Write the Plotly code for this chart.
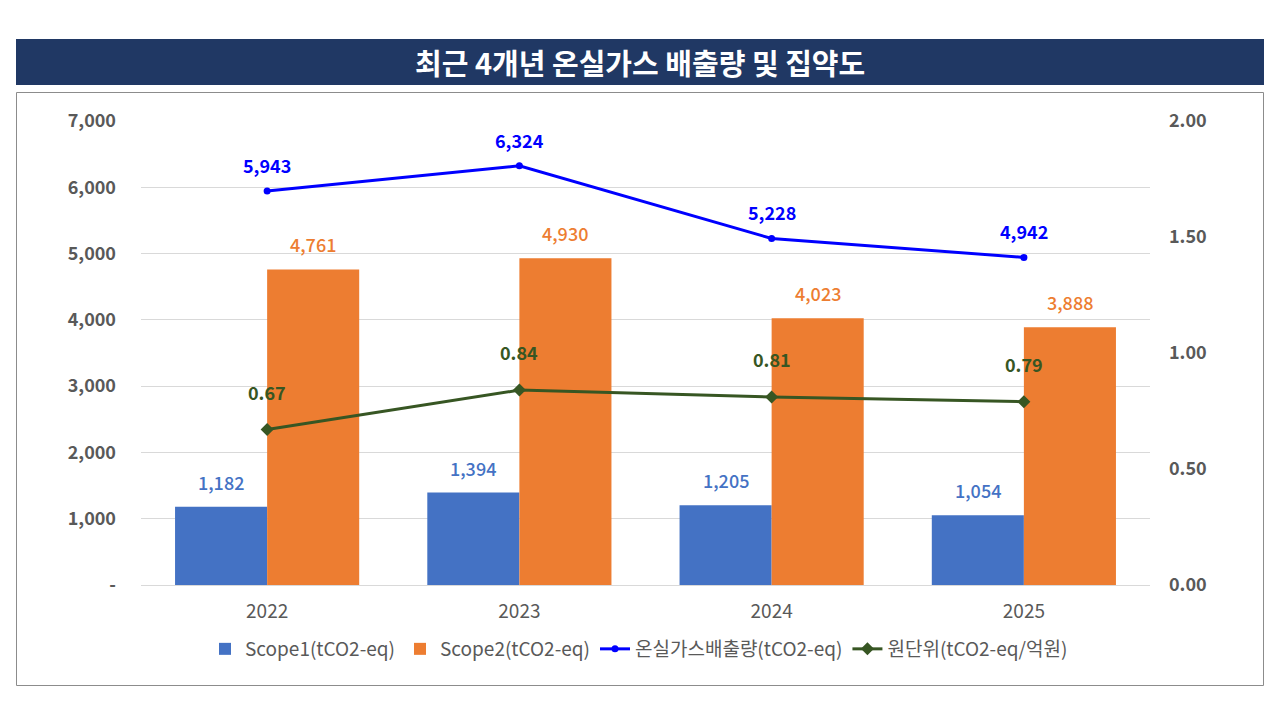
import plotly.graph_objects as go

years = ["2022", "2023", "2024", "2025"]
scope1 = [1182, 1394, 1205, 1054]
scope2 = [4761, 4930, 4023, 3888]
total = [5943, 6324, 5228, 4942]
intensity = [0.67, 0.84, 0.81, 0.79]
left_ticks = [0, 1000, 2000, 3000, 4000, 5000, 6000, 7000]
left_ticktext = ["-", "1,000", "2,000", "3,000", "4,000", "5,000", "6,000", "7,000"]
right_ticks = [0, 0.5, 1.0, 1.5, 2.0]

title = "최근 4개년 온실가스 배출량 및 집약도"
names = ["Scope1(tCO2-eq)", "Scope2(tCO2-eq)", "온실가스배출량(tCO2-eq)", "원단위(tCO2-eq/억원)"]

font_family = "Noto Sans CJK KR"
gray = "#595959"
c_s1 = "#4472C4"
c_s2 = "#ED7D31"
c_tot = "#0000FF"
c_int = "#375623"

# page has an 8px body margin; work in screen pixels and shift
OFF = 8
W, H = 1280 - 2 * OFF, 720 - 2 * OFF
L, R, T, B = 141 - OFF, 1150 - OFF, 121 - OFF, 585 - OFF


def px(x):
    return (x - OFF - L) / (R - L)


def py(y):
    return (B - (y - OFF)) / (B - T)


fig = go.Figure()
fig.add_trace(go.Bar(x=years, y=scope1, name=names[0], marker=dict(color=c_s1, line=dict(width=0))))
fig.add_trace(go.Bar(x=years, y=scope2, name=names[1], marker=dict(color=c_s2, line=dict(width=0))))
fig.add_trace(go.Scatter(x=years, y=total, name=names[2], mode="lines+markers",
                         line=dict(color=c_tot, width=3),
                         marker=dict(symbol="circle", size=7, color=c_tot)))
fig.add_trace(go.Scatter(x=years, y=intensity, name=names[3], mode="lines+markers",
                         yaxis="y2", line=dict(color=c_int, width=3),
                         marker=dict(symbol="diamond", size=10, color=c_int)))

# data labels (x given as category index so the year strings are not read as numbers)
annotations = []
for i in range(len(years)):
    annotations.append(dict(x=i, y=scope1[i], xref="x", yref="y", text=f"{scope1[i]:,}",
                            showarrow=False, xshift=-46, yshift=10, yanchor="bottom",
                            font=dict(color=c_s1, size=18, weight=500)))
    annotations.append(dict(x=i, y=scope2[i], xref="x", yref="y", text=f"{scope2[i]:,}",
                            showarrow=False, xshift=46, yshift=10, yanchor="bottom",
                            font=dict(color=c_s2, size=18, weight=500)))
    annotations.append(dict(x=i, y=total[i], xref="x", yref="y", text=f"{total[i]:,}",
                            showarrow=False, yshift=11, yanchor="bottom",
                            font=dict(color=c_tot, size=18, weight="bold")))
    annotations.append(dict(x=i, y=intensity[i], xref="x", yref="y2", text=f"{intensity[i]:.2f}",
                            showarrow=False, yshift=23, yanchor="bottom",
                            font=dict(color=c_int, size=18, weight="bold")))

annotations.append(dict(x=px(640), y=py(62), xref="paper", yref="paper", text=title,
                        showarrow=False, xanchor="center", yanchor="middle",
                        font=dict(color="white", size=29, weight="bold")))

shapes = [
    dict(type="rect", xref="paper", yref="paper", x0=px(16), x1=px(1264), y0=py(39), y1=py(85),
         fillcolor="#203864", line=dict(width=0), layer="below"),
    dict(type="rect", xref="paper", yref="paper", x0=px(16.5), x1=px(1263.5), y0=py(92.5), y1=py(685.5),
         fillcolor="rgba(0,0,0,0)", line=dict(color="#8C8C8C", width=1), layer="below"),
]

fig.update_layout(
    width=W, height=H,
    margin=dict(l=L, r=W - R, t=T, b=H - B, autoexpand=False),
    plot_bgcolor="white", paper_bgcolor="white",
    font=dict(family=font_family, color=gray, size=17),
    barmode="group", bargap=0.27, bargroupgap=0,
    xaxis=dict(type="category", range=[-0.5, len(years) - 0.5], showgrid=False,
               showline=True, linecolor="#D9D9D9", ticks="",
               tickfont=dict(size=19, color=gray), ticklabelstandoff=9),
    yaxis=dict(range=[0, 7000], tickvals=left_ticks, ticktext=left_ticktext,
               showgrid=True, gridcolor="#D9D9D9", gridwidth=1, zeroline=False,
               tickfont=dict(size=18, color=gray, weight="bold"), ticklabelstandoff=24),
    yaxis2=dict(range=[0, 2], tickvals=right_ticks, tickformat=".2f", overlaying="y", side="right",
                showgrid=False, zeroline=False,
                tickfont=dict(size=18, color=gray, weight="bold"), ticklabelstandoff=18),
    legend=dict(orientation="h", x=px(639), xanchor="center", y=py(649), yanchor="middle",
                font=dict(size=19, color=gray), traceorder="normal", itemwidth=30),
    showlegend=True,
    annotations=annotations,
    shapes=shapes,
)

fig.write_html("out.html")
